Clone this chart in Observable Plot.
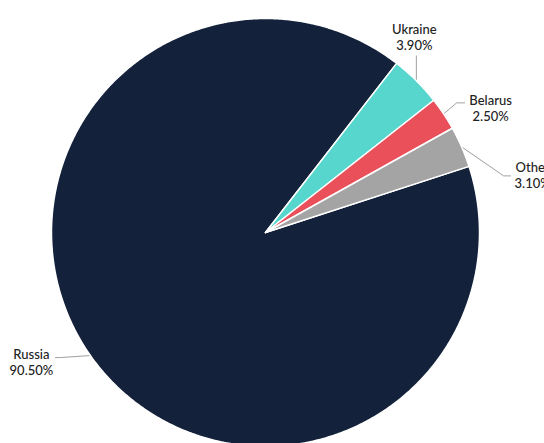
<!DOCTYPE html>
<html>
<head>
<meta charset="utf-8">
<script src="https://cdn.jsdelivr.net/npm/d3@7"></script>
<script src="https://cdn.jsdelivr.net/npm/@observablehq/plot@0.6"></script>
<style>
  html, body { margin: 0; padding: 0; background: #fff; overflow: hidden; }
</style>
</head>
<body>
<div id="chart"></div>
<script>
const countries = ["Russia", "Ukraine", "Belarus", "Other"];
const shares = [90.5, 3.9, 2.5, 3.1];
const shareLabels = ["90.50%", "3.90%", "2.50%", "3.10%"];
const colors = ["#14213b", "#56d6cc", "#e9505a", "#a4a4a4"];

// layout (pixels)
const W = 544, H = 443, CX = 265, CY = 232, R = 214;
const startDeg = 72;
// per-label connector & text offsets, pixels, relative to slice mid point on rim
const labelLayout = {
  Russia:  {elbow: [-30, 2],  end: [-35, 2],  text: [-59, -8]},
  Ukraine: {elbow: [0, -25],  end: [0, -25],  text: [-2, -58]},
  Belarus: {elbow: [13, -11], end: [21, -11], text: [47, -20]},
  Other:   {elbow: [42, 29],  end: [49, 29],  text: [71, 14]}
};

const rows = countries.map((c, i) => ({name: c, value: shares[i], label: shareLabels[i], color: colors[i]}));
const a0 = startDeg * Math.PI / 180;
const arcs = d3.pie().sort(null).value(d => d.value).startAngle(a0).endAngle(a0 + 2 * Math.PI)(rows);

const slices = arcs.map(a => {
  const n = Math.max(4, Math.ceil((a.endAngle - a.startAngle) / (Math.PI / 360)));
  const pts = [{x: 0, y: 0}];
  for (let k = 0; k <= n; k++) {
    const t = a.startAngle + (a.endAngle - a.startAngle) * k / n;
    pts.push({x: Math.sin(t), y: Math.cos(t)});
  }
  pts.push({x: 0, y: 0});
  return {data: a.data, pts};
});

const px = d => d / R; // pixel offset -> data units
const connectors = [];
const texts = [];
arcs.forEach(a => {
  const m = (a.startAngle + a.endAngle) / 2;
  const sx = Math.sin(m), sy = Math.cos(m);
  const L = labelLayout[a.data.name];
  connectors.push({name: a.data.name, x: sx, y: sy});
  connectors.push({name: a.data.name, x: sx + px(L.elbow[0]), y: sy - px(L.elbow[1])});
  connectors.push({name: a.data.name, x: sx + px(L.end[0]), y: sy - px(L.end[1])});
  texts.push({x: sx + px(L.text[0]), y: sy - px(L.text[1]), text: a.data.name + "\n" + a.data.label});
});

const chart = Plot.plot({
  width: W,
  height: H,
  margin: 0,
  x: {domain: [-CX / R, (W - CX) / R], axis: null},
  y: {domain: [-(H - CY) / R, CY / R], axis: null},
  style: {background: "#fff", fontFamily: "Lato, 'Open Sans', sans-serif"},
  marks: [
    Plot.line(connectors, {x: "x", y: "y", z: "name", stroke: "#a0a0a0", strokeWidth: 1, curve: "linear"}),
    ...slices.map(s => Plot.line(s.pts, {x: "x", y: "y", fill: s.data.color, stroke: "#ffffff", strokeWidth: 1.5, strokeLinejoin: "round"})),
    Plot.text(texts, {x: "x", y: "y", text: "text", textAnchor: "middle", lineAnchor: "top", lineHeight: 1.23, fontSize: 13, fill: "#222", fontWeight: 500})
  ]
});
document.getElementById("chart").appendChild(chart);
</script>
</body>
</html>
